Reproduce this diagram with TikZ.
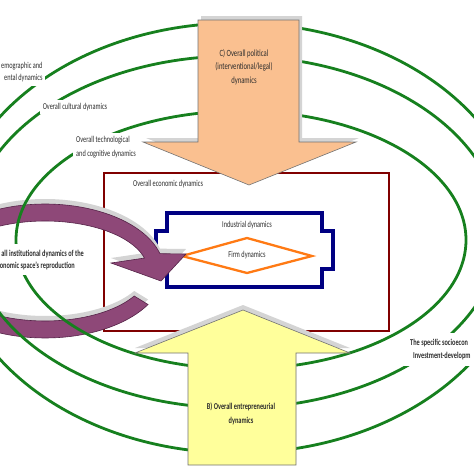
\documentclass[tikz,border=0pt]{standalone}
\usepackage{fontspec}
\setmainfont{Carlito}[FakeStretch=0.7]
\definecolor{ringgreen}{RGB}{22,128,30}
\definecolor{econred}{RGB}{128,0,0}
\definecolor{indblue}{RGB}{0,0,130}
\definecolor{firmorange}{RGB}{255,122,20}
\definecolor{plum}{RGB}{142,72,120}
\definecolor{plumedge}{RGB}{85,35,72}
\definecolor{peach}{RGB}{250,192,144}
\definecolor{paleyellow}{RGB}{255,255,155}
\definecolor{shadowgray}{RGB}{212,212,212}
\definecolor{txt}{RGB}{45,45,45}
\tikzset{
  ring/.style={draw=ringgreen, line width=2.8pt},
  lbl/.style={font=\fontsize{9}{13.5}\selectfont, text=txt, inner sep=0pt},
  blbl/.style={lbl, font=\fontsize{9}{13}\selectfont\bfseries},
  blockarrow/.style={draw=black!55, line width=0.6pt},
  shadowfill/.style={fill=shadowgray},
}
\newcommand{\CycArrowPath}{plot[domain=30:345,samples=100,variable=\t] ({45+119*cos(\t)},{271+67*sin(\t)}) -- (186,254) -- (161,281) -- (111,263) -- plot[domain=345:30,samples=100,variable=\t] ({45+103*cos(\t)},{271+50*sin(\t)}) -- cycle}
\newcommand{\CArrowPath}{(198,20) -- (299,20) -- (299,142) -- (356,142) -- (249,185) -- (143,142) -- (198,142) -- cycle}
\newcommand{\BArrowPath}{(188,465) -- (188,353) -- (135,353) -- (243,310) -- (350,353) -- (296,353) -- (296,465) -- cycle}
\begin{document}
\begin{tikzpicture}[x=1pt,y=-1pt]
\useasboundingbox (0,0) rectangle (474,474);
\fill[white] (0,0) rectangle (474,474);
\clip (0,0) rectangle (474,474);

% overall economic dynamics box
\draw[econred, line width=1.4pt] (104,173) rectangle (389,331);

% industrial dynamics box
\draw[indblue, line width=3.4pt, fill=white]
  (167,213) -- (322,213) -- (322,231) -- (333,231) -- (333,269) -- (322,269)
  -- (322,287) -- (167,287) -- (167,269) -- (156,269) -- (156,231) -- (167,231) -- cycle;
% firm dynamics diamond
\draw[firmorange, line width=2.3pt] (182,256) -- (247,238) -- (312,256) -- (247,273) -- cycle;

% circular institutional arrow
\fill[shadowfill, shift={(0,-5)}] \CycArrowPath;
\filldraw[fill=plum, draw=plumedge, line width=0.6pt] \CycArrowPath;

% concentric dynamics rings
\draw[ring] (241,240) ellipse [x radius=225pt, y radius=129pt];
\draw[ring] (235,232) ellipse [x radius=265pt, y radius=176pt];
\draw[ring] (237,238) ellipse [x radius=287pt, y radius=215pt];

% ring labels
\fill[white] (0,58) rectangle (45,86);
\node[lbl, align=right, anchor=west, font=\fontsize{9}{12}\selectfont] (demo) at (1,72) {emographic and\\ental dynamics};
\node[lbl, fill=white, inner sep=3pt] (cult) at (75,107) {Overall cultural dynamics};
\node[lbl, align=left, anchor=west, fill=white, inner sep=3pt, font=\fontsize{9}{14}\selectfont] (tech) at (73,147) {Overall technological\\and cognitive dynamics};

% institutional label
\fill[white] (0,244) rectangle (87,275);
\node[blbl, anchor=east] (inst1) at (84,254) {all institutional dynamics of the};
\node[blbl, anchor=east] (inst2) at (75,266) {onomic space's reproduction};

% specific label
\fill[white] (401,333) rectangle (474,366);
\node[blbl, anchor=west] (spec1) at (410,343) {The specific socioecon};
\node[blbl, anchor=west] (spec2) at (413,356) {Investment-developm};

% inner labels
\node[lbl, anchor=west] (econ) at (133,184) {Overall economic dynamics};
\node[lbl] (ind) at (247,225) {Industrial dynamics};
\node[lbl] (firm) at (247,255) {Firm dynamics};

% C arrow
\fill[shadowfill, shift={(3,-4)}] \CArrowPath;
\filldraw[blockarrow, fill=peach] \CArrowPath;
\node[lbl, align=center, font=\fontsize{9.5}{13.5}\selectfont] (pol) at (244,67) {C) Overall political\\(interventional/legal)\\dynamics};

% B arrow
\fill[shadowfill, shift={(0,-5)}] \BArrowPath;
\filldraw[blockarrow, fill=paleyellow] \BArrowPath;
\node[blbl, align=center, font=\fontsize{9}{14}\selectfont\bfseries] (ent) at (241,414) {B) Overall entrepreneurial\\dynamics};
\end{tikzpicture}
\end{document}
